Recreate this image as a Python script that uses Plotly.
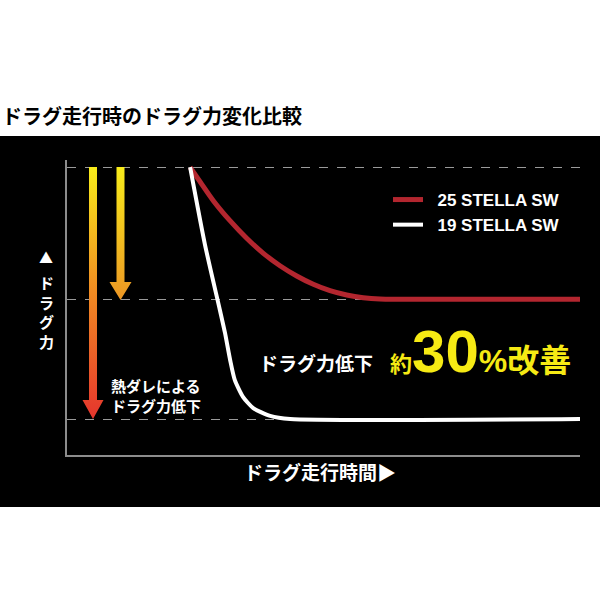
import plotly.graph_objects as go

# ---------------- data ----------------
series_names = ["25 STELLA SW", "19 STELLA SW"]
red_x = [23.98, 25.93, 28.52, 31.77, 35.03, 38.27, 41.52, 44.78, 48.01, 51.27, 54.52, 57.76, 61.01, 64.27, 100.0]
red_y = [99.97, 94.96, 88.36, 81.41, 75.30, 70.08, 65.77, 62.20, 59.31, 57.09, 55.59, 54.66, 54.20, 54.10, 54.10]
white_x = [24.0, 26.9, 29.8, 30.8, 31.8, 32.7, 34.3, 36.3, 39.6, 43.5, 100.0]
white_y = [100.0, 73.0, 50.4, 42.4, 33.0, 26.1, 20.2, 16.3, 13.6, 12.5, 12.5]
grid_levels = [12.5, 54.0, 100.0]

title_text = "ドラグ走行時のドラグ力変化比較"
x_title = "ドラグ走行時間▶"
y_title_mark = "▲"
y_title_text = "ド<br>ラ<br>グ<br>力"
heat_text = "熱ダレによる<br>ドラグ力低下"
drop_text = "ドラグ力低下"

# ---------------- layout geometry (pixels) ----------------
W, H = 600, 600
L, R, T, B = 67, 20, 160, 145
PW, PH = W - L - R, H - T - B
XR = [0, 100]
YR = [0, 102.5]

def px_x(p):
    return (p - L) / PW

def px_y(p):
    return (H - B - p) / PH

def dx(p):  # pixel x -> data x
    return XR[0] + (p - L) / PW * (XR[1] - XR[0])

def dy(p):  # pixel y -> data y
    return YR[0] + (H - B - p) / PH * (YR[1] - YR[0])

JP = "Noto Sans CJK JP"
RED = "#b3262f"
YEL = "#f6ea14"

fig = go.Figure()

# gradient arrows (decorative)
def arrow(cx, ytop, ytip, shaft_hw, head_hw, head_h, cscale):
    xs = [cx - shaft_hw, cx + shaft_hw, cx + shaft_hw, cx + head_hw, cx, cx - head_hw, cx - shaft_hw, cx - shaft_hw]
    ys = [ytop, ytop, ytip - head_h, ytip - head_h, ytip, ytip - head_h, ytip - head_h, ytop]
    fig.add_trace(go.Scatter(
        x=[dx(v) for v in xs], y=[dy(v) for v in ys],
        mode="lines", line=dict(width=0), fill="toself",
        fillgradient=dict(type="vertical", colorscale=cscale),
        hoverinfo="skip", showlegend=False))

arrow(93, 167, 419, 4, 10.5, 19, [[0, "#e5352d"], [0.5, "#f08a22"], [1, "#f8ec1a"]])
arrow(120.5, 167, 300, 4, 11, 18, [[0, "#ec9624"], [1, "#f8ec1a"]])

fig.add_trace(go.Scatter(x=red_x, y=red_y, mode="lines",
                         name="<b>&nbsp;&nbsp;" + series_names[0] + "</b>",
                         line=dict(color=RED, width=5, shape="spline", smoothing=0.8)))
fig.add_trace(go.Scatter(x=white_x, y=white_y, mode="lines",
                         name="<b>&nbsp;&nbsp;" + series_names[1] + "</b>",
                         line=dict(color="#ffffff", width=4, shape="spline", smoothing=0.6)))

annotations = []
annotations.append(dict(text=title_text, x=px_x(0), y=px_y(116), xref="paper", yref="paper",
                        xanchor="left", yanchor="middle", showarrow=False,
                        font=dict(family=JP, size=20, color="#000000", weight="bold")))
annotations.append(dict(text=x_title, x=px_x(320), y=px_y(471), xref="paper", yref="paper",
                        xanchor="center", yanchor="middle", showarrow=False,
                        font=dict(family=JP, size=19, color="#ffffff", weight="bold")))
annotations.append(dict(text=y_title_mark, x=px_x(46), y=px_y(257), xref="paper", yref="paper",
                        xanchor="center", yanchor="middle", showarrow=False,
                        font=dict(family=JP, size=14, color="#ffffff", weight="bold")))
annotations.append(dict(text=y_title_text, x=px_x(46), y=px_y(312), xref="paper", yref="paper",
                        xanchor="center", yanchor="middle", showarrow=False,
                        font=dict(family=JP, size=15, color="#ffffff", weight="bold")))
annotations.append(dict(text=heat_text, x=px_x(109), y=px_y(395), xref="paper", yref="paper",
                        xanchor="left", yanchor="middle", align="left", showarrow=False,
                        font=dict(family=JP, size=15, color="#ffffff", weight="bold")))
annotations.append(dict(text=drop_text, x=px_x(257), y=px_y(362), xref="paper", yref="paper",
                        xanchor="left", yanchor="middle", showarrow=False,
                        font=dict(family=JP, size=19, color="#ffffff", weight="bold")))
big = ("<span style='font-size:22px'>約</span>"
       "<span style='font-family:Liberation Sans;font-size:60px'>30</span>"
       "<span style='font-family:Liberation Sans;font-size:32px'>%</span>"
       "<span style='font-size:32px'>改善</span>")
annotations.append(dict(text=big, x=px_x(388), y=px_y(351), xref="paper", yref="paper",
                        xanchor="left", yanchor="middle", showarrow=False,
                        font=dict(family=JP, size=30, color=YEL, weight="bold")))

fig.update_layout(
    width=W, height=H,
    margin=dict(l=L, r=R, t=T, b=B, pad=0),
    paper_bgcolor="#ffffff",
    plot_bgcolor="#000000",
    shapes=[dict(type="rect", xref="paper", yref="paper",
                 x0=px_x(-5), x1=px_x(605), y0=px_y(507), y1=px_y(136),
                 fillcolor="#000000", line=dict(width=0), layer="below")],
    annotations=annotations,
    xaxis=dict(range=XR, showgrid=False, zeroline=False, showticklabels=False, ticks="",
               showline=True, linecolor="#8c8c8c", linewidth=1.5),
    yaxis=dict(range=YR, tickvals=grid_levels, showgrid=True, gridcolor="#9a9a9a", griddash="dash",
               gridwidth=1, zeroline=False, showticklabels=False, ticks="",
               showline=True, linecolor="#8c8c8c", linewidth=1.5),
    legend=dict(x=px_x(388), y=px_y(182), xanchor="left", yanchor="top",
                bgcolor="rgba(0,0,0,0)", font=dict(family="Liberation Sans", size=17, color="#ffffff"),
                tracegroupgap=0, itemwidth=30),
    showlegend=True,
)

fig.write_html("out.html", config={"displayModeBar": False},
               post_script="document.body.style.margin='0';")
